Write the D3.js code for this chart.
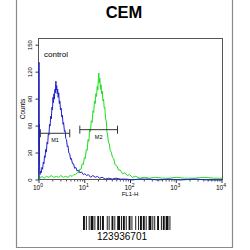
<!DOCTYPE html>
<html>
<head>
<meta charset="utf-8">
<script src="https://cdn.jsdelivr.net/npm/d3@7"></script>
<style>
  body { margin: 0; background: #fff; }
  text { font-family: "Liberation Sans", Arial, sans-serif; }
</style>
</head>
<body>
<div class="canva"></div>
<script>
// data: [FL1-H value, counts]
const blueCurve = [
  [1.0, 0], [1.0, 131], [1.01, 40], [1.02, 62], [1.03, 15], [1.05, 6], [1.08, 10], [1.12, 8], [1.16, 14],
  [1.2, 12], [1.24, 20], [1.28, 18], [1.32, 27], [1.36, 25], [1.4, 34], [1.45, 31], [1.5, 42], [1.55, 40],
  [1.6, 52], [1.65, 50], [1.7, 62], [1.75, 60], [1.8, 71], [1.86, 68], [1.92, 81], [1.97, 78],
  [2.02, 92], [2.07, 86], [2.12, 96], [2.17, 90], [2.23, 101], [2.28, 97], [2.34, 110], [2.38, 100],
  [2.44, 105], [2.5, 96], [2.56, 101], [2.62, 92], [2.7, 97], [2.78, 85], [2.86, 88], [2.95, 78],
  [3.05, 80], [3.15, 70], [3.25, 72], [3.35, 62], [3.45, 64], [3.6, 54], [3.72, 55], [3.85, 46],
  [4.0, 45], [4.15, 37], [4.3, 38], [4.5, 30], [4.7, 29], [4.9, 23], [5.1, 24], [5.4, 18],
  [5.7, 18], [6.0, 13], [6.4, 14], [6.8, 10], [7.3, 11], [7.8, 8], [8.5, 9], [9.3, 6], [10, 7],
  [11, 5], [12, 6], [13.5, 3], [15, 5], [17, 3], [19, 4], [21, 2], [24, 3], [28, 1], [33, 2],
  [40, 1], [48, 2], [60, 1], [80, 1], [110, 0], [150, 1], [250, 1], [400, 0], [700, 1],
  [1200, 0], [2500, 1], [5000, 0], [10000, 0]
];
const greenCurve = [
  [1.0, 0], [1.02, 5], [1.06, 2], [1.15, 4], [1.3, 2], [1.45, 4], [1.65, 3], [1.85, 5], [2.1, 3],
  [2.4, 4], [2.7, 3], [3.0, 5], [3.4, 3], [3.8, 4], [4.3, 3], [4.8, 5], [5.3, 4], [5.8, 6],
  [6.3, 6], [6.8, 8], [7.3, 8], [7.8, 12], [8.3, 12], [8.8, 18], [9.3, 17], [9.8, 25], [10.3, 24],
  [10.8, 34], [11.3, 33], [11.8, 45], [12.3, 43], [12.8, 56], [13.3, 54], [13.9, 66], [14.5, 64],
  [15.1, 77], [15.7, 75], [16.3, 88], [16.9, 85], [17.5, 96], [18.1, 93], [18.7, 104], [19.3, 100],
  [19.8, 112], [20.3, 119], [20.8, 108], [21.4, 113], [22.0, 101], [22.7, 106], [23.4, 96],
  [24.2, 99], [25.0, 88], [25.8, 90], [26.6, 80], [27.5, 81], [28.5, 68], [29.5, 66], [30.5, 54],
  [31.6, 50], [33, 42], [34.5, 40], [36, 33], [38, 31], [40.5, 25], [43, 24], [46, 17], [50, 16],
  [55, 11], [60, 11], [67, 7], [75, 8], [85, 5], [95, 6], [110, 3], [130, 4], [160, 2],
  [200, 3], [260, 2], [350, 3], [500, 2], [700, 2], [1000, 3], [1500, 2], [2500, 2], [4000, 3],
  [6500, 2], [10000, 2]
];
const yTicks = [0, 30, 60, 90, 120, 150];
const xTicks = [1, 10, 100, 1000, 10000];
const markers = [
  { name: "M1", from: 1.07, to: 4.7, level: 52 },
  { name: "M2", from: 7.8, to: 52, level: 56 }
];
const barcode = [2,1,1,2,1,1,3,1,1,2,2,1,1,1,2,3,1,1,1,2,2,1,1,2,3,1,1,1,2,1,1,2,2,1,1,3,1,2,1,1,2,1,2,1,1,2,3,1,1,1,1,2,2,2,1,1,2,1,3,1,1,2];

const svg = d3.select(".canva").append("svg")
    .attr("width", 250)
    .attr("height", 250);

// outer frame
svg.append("path")
    .attr("d", "M16.5,-1 V247.5 H232.5 V-1")
    .attr("fill", "none")
    .attr("stroke", "#8a8a8a")
    .attr("stroke-width", 1.2);

svg.append("text")
    .attr("x", 124).attr("y", 18)
    .attr("text-anchor", "middle")
    .style("font-size", "16.5px")
    .style("font-weight", "bold")
    .text("CEM");

const x = d3.scaleLog().domain([1, 10000]).range([39, 222]);
const y = d3.scaleLinear().domain([0, 158]).range([180, 38]);

// plot box
svg.append("rect")
    .attr("x", 38.5).attr("y", 38.5)
    .attr("width", 184).attr("height", 141)
    .attr("fill", "none")
    .attr("stroke", "#555")
    .attr("stroke-width", 1);

// y axis
const yAxis = svg.append("g").attr("transform", "translate(38.5,0)");
yAxis.selectAll("line").data(yTicks).enter().append("line")
    .attr("x1", -3).attr("x2", 0)
    .attr("y1", d => y(d)).attr("y2", d => y(d))
    .attr("stroke", "#333");
yAxis.selectAll("text").data(yTicks).enter().append("text")
    .attr("transform", d => "translate(-7," + y(d) + ") rotate(-90)")
    .attr("text-anchor", "middle")
    .style("font-size", "6px")
    .text(d => d);
svg.append("text")
    .attr("transform", "translate(25,109) rotate(-90)")
    .attr("text-anchor", "middle")
    .style("font-size", "6.5px")
    .text("Counts");

// x axis ticks (major + minor)
const minor = [];
for (let e = 0; e < 4; e++) for (let k = 2; k <= 9; k++) minor.push(k * Math.pow(10, e));
svg.selectAll(".minor").data(minor).enter().append("line")
    .attr("x1", d => x(d)).attr("x2", d => x(d))
    .attr("y1", 179.5).attr("y2", 181.5)
    .attr("stroke", "#555");
svg.selectAll(".major").data(xTicks).enter().append("line")
    .attr("x1", d => x(d)).attr("x2", d => x(d))
    .attr("y1", 179.5).attr("y2", 183)
    .attr("stroke", "#333");
const xl = svg.selectAll(".xl").data(xTicks).enter().append("text")
    .attr("x", d => x(d) - 1).attr("y", 190)
    .attr("text-anchor", "middle")
    .style("font-size", "6.5px");
xl.append("tspan").text("10");
xl.append("tspan").attr("dy", -3).style("font-size", "5px").text(d => Math.round(Math.log10(d)));
svg.append("text")
    .attr("x", 130).attr("y", 196)
    .attr("text-anchor", "middle")
    .style("font-size", "6px")
    .text("FL1-H");

svg.append("text")
    .attr("x", 44).attr("y", 57)
    .style("font-size", "8px")
    .text("control");

const line = d3.line()
    .x(d => x(d[0]))
    .y(d => y(d[1]));

svg.append("path").datum(greenCurve)
    .attr("d", line)
    .attr("fill", "none")
    .attr("stroke", "#22dd22")
    .attr("stroke-width", 1);
svg.append("path").datum(blueCurve)
    .attr("d", line)
    .attr("fill", "none")
    .attr("stroke", "#2222cc")
    .attr("stroke-width", 1);

// markers
const m = svg.selectAll(".mk").data(markers).enter().append("g");
m.append("line")
    .attr("x1", d => x(d.from)).attr("x2", d => x(d.to))
    .attr("y1", d => y(d.level)).attr("y2", d => y(d.level))
    .attr("stroke", "#333");
m.append("line")
    .attr("x1", d => x(d.from)).attr("x2", d => x(d.from))
    .attr("y1", d => y(d.level) - 4).attr("y2", d => y(d.level) + 4)
    .attr("stroke", "#333");
m.append("line")
    .attr("x1", d => x(d.to)).attr("x2", d => x(d.to))
    .attr("y1", d => y(d.level) - 4).attr("y2", d => y(d.level) + 4)
    .attr("stroke", "#333");
m.append("text")
    .attr("x", d => (x(d.from) + x(d.to)) / 2).attr("y", d => y(d.level) + 9)
    .attr("text-anchor", "middle")
    .style("font-size", "5.5px")
    .text(d => d.name);

// barcode
let bx = 83;
const bars = [];
barcode.forEach((w, i) => { if (i % 2 === 0) bars.push({ x: bx, w: w }); bx += w * 0.95; });
svg.selectAll(".bc").data(bars).enter().append("rect")
    .attr("x", d => d.x).attr("y", 216)
    .attr("width", d => d.w * 0.95).attr("height", 14)
    .attr("fill", "#111");
svg.append("text")
    .attr("x", 122).attr("y", 240)
    .attr("text-anchor", "middle")
    .style("font-size", "10px")
    .text("123936701");
</script>
</body>
</html>
